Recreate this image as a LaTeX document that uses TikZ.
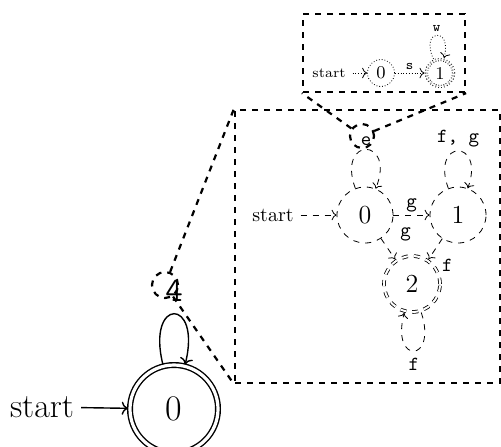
\documentclass[tikz,border=0pt]{standalone}
\usepackage{amsmath,amssymb}
\usepackage{tikz}
\usetikzlibrary{arrows.meta}

\begin{document}
\begin{tikzpicture}[x=0.5pt, y=-0.5pt, >={To}, big/.style={draw, circle, line width=0.7pt, minimum size=44pt, inner sep=0pt, font=\fontsize{18}{21}\selectfont}, mid/.style={draw, circle, dashed, thin, minimum size=28pt, inner sep=0pt, font=\fontsize{13}{15}\selectfont}, sml/.style={draw, circle, densely dotted, thin, minimum size=13.5pt, inner sep=0pt, font=\fontsize{9}{10}\selectfont}, acc/.style={double, double distance=#1, outer sep=1pt}, acc/.default=1pt, zm/.style={draw, dashed, line width=1.1pt}, lbl/.style={font=\ttfamily, inner sep=1.5pt}]
	\useasboundingbox (0,0) rectangle (501,446);
	% level 0
	\node[big, acc=1.6pt] (q0) at (174,409) {0};
	\node[font=\fontsize{17}{20}\selectfont] (st0) at (42,407) {start};
	\draw[->, line width=0.7pt] (st0) -- (q0);
	\draw[->, line width=0.7pt] (q0) to[out=104, in=76, looseness=8] node[above=6pt, inner sep=0pt, font=\fontsize{17}{20}\ttfamily] (l4) {4} (q0);
	\node[zm, circle, minimum size=13pt, inner sep=0pt] (zA) at (165,285) {};
	% level 1
	\node[zm, minimum width=132.5pt, minimum height=136.5pt] (boxA) at (367.5,246.5) {};
	\draw[zm] (zA) -- (boxA.north west);
	\draw[zm] (zA) -- (boxA.south west);
	\node[mid] (s0) at (365,215) {0};
	\node[mid] (s1) at (458,215) {1};
	\node[mid, acc] (s2) at (412,284) {2};
	\node (st1) at (273,215) {start};
	\draw[->, thin, dashed] (st1) -- (s0);
	\draw[->, thin, dashed] (s0) -- (s1) node[lbl, midway, above] {g};
	\draw[->, thin, dashed] (s0) -- (s2) node[lbl, pos=0, right=8pt, yshift=2pt] {g};
	\draw[->, thin, dashed] (s1) -- (s2) node[lbl, pos=1, right=5pt, yshift=-3pt] {f};
	\draw[->, thin, dashed] (s0) to[out=110, in=68, looseness=7] node[lbl, above] (le) {e} (s0);
	\draw[->, thin, dashed] (s1) to[out=110, in=70, looseness=7] node[lbl, above] {f, g} (s1);
	\draw[->, thin, dashed] (s2) to[out=-72, in=-105, looseness=8] node[lbl, below=2pt] {f} (s2);
	\node[zm, circle, minimum size=12pt, inner sep=0pt] (zB) at (362,136) {};
	% level 2
	\node[zm, minimum width=81pt, minimum height=39pt] (boxB) at (384,53) {};
	\draw[zm] (zB) -- (boxB.south west);
	\draw[zm] (zB) -- (boxB.south east);
	\node[sml] (t0) at (381,73) {0};
	\node[sml, acc=0.8pt] (t1) at (440,73) {1};
	\node[font=\scriptsize] (st2) at (329,73) {start};
	\draw[->, thin, densely dotted] (st2) -- (t0);
	\draw[->, thin, densely dotted] (t0) -- (t1) node[lbl, font=\scriptsize\ttfamily, midway, above] {s};
	\draw[->, thin, densely dotted] (t1) to[out=115, in=75, looseness=8] node[lbl, font=\scriptsize\ttfamily, above] {w} (t1);
\end{tikzpicture}
\end{document}
